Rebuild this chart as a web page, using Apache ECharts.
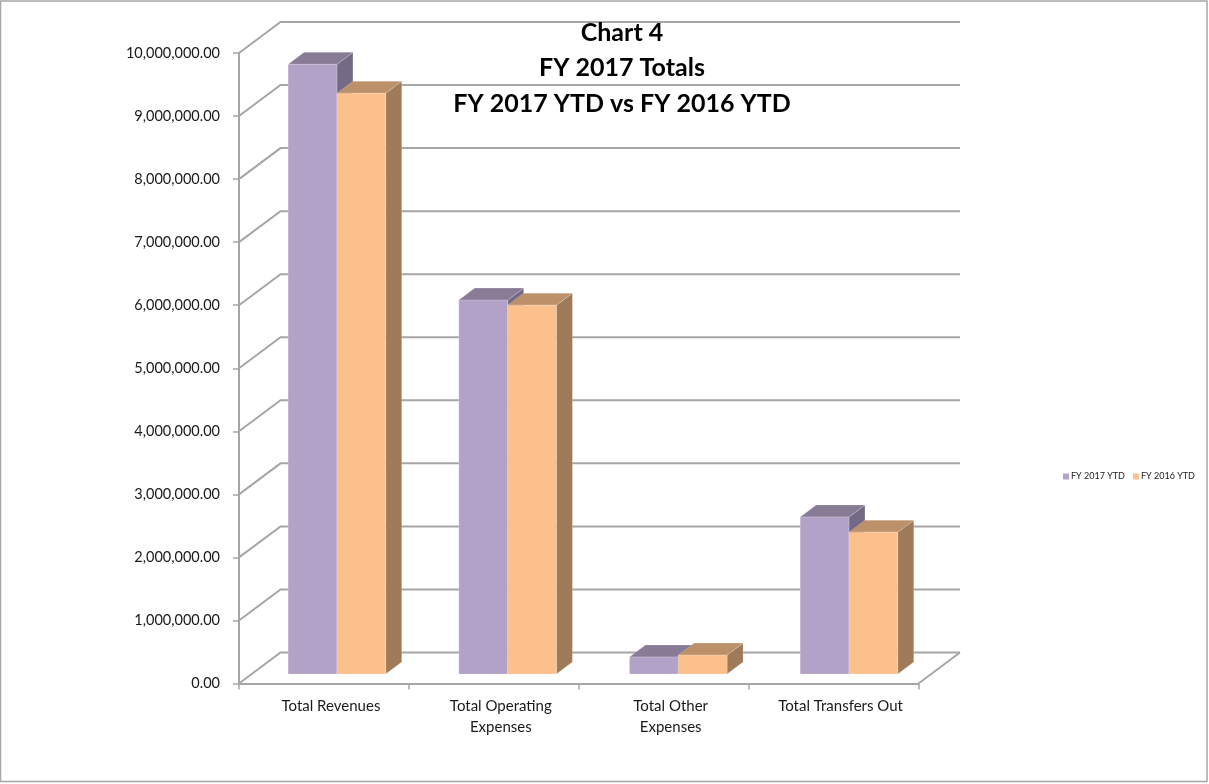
<!DOCTYPE html>
<html><head><meta charset="utf-8">
<style>html,body{margin:0;padding:0;background:#fff}#c{width:1209px;height:784px}</style>
<script src="https://cdn.jsdelivr.net/npm/echarts@6/dist/echarts.min.js"></script>
</head><body><div id="c"></div>
<script>
const categories = ['Total Revenues', 'Total Operating\nExpenses', 'Total Other\nExpenses', 'Total Transfers Out'];
const fy2017 = [9670000, 5930000, 270000, 2490000];
const fy2016 = [9210000, 5850000, 300000, 2250000];
const yTicks = [0,1000000,2000000,3000000,4000000,5000000,6000000,7000000,8000000,9000000,10000000];
const titleLines = 'Chart 4\nFY 2017 Totals\nFY 2017 YTD vs FY 2016 YTD';
const FONT = 'Lato';
// pseudo-3D projection
const wallDX = 41.5, wallDY = -31;   // depth of the chart box
const baseDX = 13, baseDY = -9.5;    // where the bar's front face sits
const barDX = 16, barDY = -12;       // depth of a bar
const barW = 48.8;
const catDrift = 0.8;                // bars step slightly wider than the axis bands

function wallRender(params, api) {
  const p = api.coord([0, api.value(0)]);
  const cs = params.coordSys;
  const x0 = cs.x, xr = cs.x + cs.width, y = p[1];
  const ls = {stroke:'#a6a6a6', lineWidth:2, fill:null};
  const kids = [
    {type:'polyline', shape:{points:[[x0,y],[x0+wallDX,y+wallDY],[xr+wallDX,y+wallDY]]}, style:ls}
  ];
  if (api.value(0) === 0) {
    kids.push({type:'line', shape:{x1:xr,y1:y,x2:xr+wallDX,y2:y+wallDY}, style:ls});
  }
  return {type:'group', children:kids};
}
function barRender(side, cols) {
  return function(params, api) {
    const cat = api.value(0), val = api.value(1);
    const c = api.coord([cat, val]), b = api.coord([cat, 0]);
    const xl = c[0] + baseDX + cat * catDrift + (side < 0 ? -barW : 0), xr = xl + barW;
    const yt = c[1] + baseDY, yb = b[1] + baseDY;
    const edge = {lineWidth:1, stroke:'rgba(255,255,255,0.18)'};
    return {type:'group', children:[
      {type:'polygon', shape:{points:[[xr,yt],[xr+barDX,yt+barDY],[xr+barDX,yb+barDY],[xr,yb]]}, style:{fill:cols[2],...edge}},
      {type:'polygon', shape:{points:[[xl,yt],[xl+barDX,yt+barDY],[xr+barDX,yt+barDY],[xr,yt]]}, style:{fill:cols[1],...edge}},
      {type:'rect', shape:{x:xl,y:yt,width:barW,height:yb-yt}, style:{fill:cols[0],...edge}}
    ]};
  };
}
const fmt = v => v.toLocaleString('en-US',{minimumFractionDigits:2,maximumFractionDigits:2});
const chart = echarts.init(document.getElementById('c'), null, {renderer:'canvas'});
chart.setOption({
  animation:false,
  backgroundColor:'#fff',
  textStyle:{fontFamily:FONT},
  title:{text:titleLines,left:617,top:10,textAlign:'center',
    textStyle:{fontFamily:FONT,fontSize:25,fontWeight:'bold',color:'#000',lineHeight:35.5}},
  legend:{data:['FY 2017 YTD','FY 2016 YTD'],left:1058,top:467,itemWidth:6,itemHeight:6,itemGap:8,
    icon:'rect',textStyle:{fontFamily:FONT,fontSize:9,color:'#222',padding:[0,0,0,-3]}},
  grid:{left:239,top:53,width:679.5,height:630.5,containLabel:false},
  xAxis:{type:'category',data:categories,
    axisLine:{show:true,lineStyle:{color:'#a6a6a6',width:2}},
    axisTick:{show:true,length:6,lineStyle:{color:'#a6a6a6',width:1.5}},
    axisLabel:{color:'#1a1a1a',fontFamily:FONT,fontSize:15,lineHeight:21,margin:12,padding:[0,0,0,14],interval:0},
    splitLine:{show:false}},
  yAxis:{type:'value',min:0,max:10000000,interval:1000000,
    axisLine:{show:true,lineStyle:{color:'#a6a6a6',width:2}},
    axisTick:{show:true,length:6,lineStyle:{color:'#a6a6a6',width:1.5}},
    axisLabel:{color:'#1a1a1a',fontFamily:FONT,fontSize:14.5,margin:19,formatter:fmt},
    splitLine:{show:false}},
  series:[
    {type:'custom',name:'walls',renderItem:wallRender,data:yTicks.map(v=>[v]),
      encode:{y:0},z:1,silent:true,clip:false},
    {type:'custom',name:'FY 2017 YTD',renderItem:barRender(-1,['#B3A2C7','#877B96','#746A85']),
      data:fy2017.map((v,i)=>[i,v]),encode:{x:0,y:1},z:2,clip:false,itemStyle:{color:'#B3A2C7'}},
    {type:'custom',name:'FY 2016 YTD',renderItem:barRender(1,['#FCC08D','#BC9068','#9F7B59']),
      data:fy2016.map((v,i)=>[i,v]),encode:{x:0,y:1},z:3,clip:false,itemStyle:{color:'#FCC08D'}}
  ],
  graphic:[{type:'rect',z:-1,silent:true,shape:{x:0.5,y:1,width:1206.5,height:780.5},
    style:{fill:null,stroke:'#a6a6a6',lineWidth:1.5}}]
});
</script></body></html>
